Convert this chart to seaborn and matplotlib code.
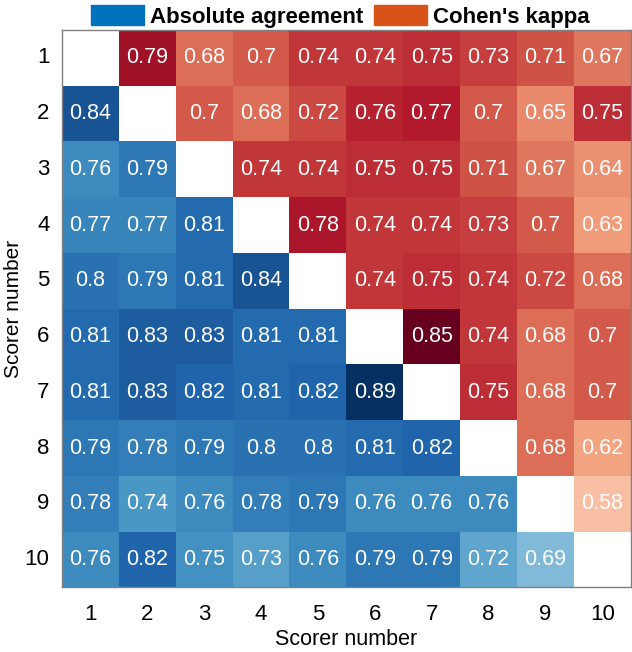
import numpy as np
import pandas as pd
import matplotlib
matplotlib.use("Agg")
import matplotlib.pyplot as plt
from matplotlib.colors import ListedColormap
from matplotlib.patches import Patch
import seaborn as sns

# scorer labels
scorers = [str(i) for i in range(1, 11)]

# agreement matrix: lower triangle = absolute agreement, upper = Cohen's kappa
row1 = [np.nan, 0.79, 0.68, 0.70, 0.74, 0.74, 0.75, 0.73, 0.71, 0.67]
row2 = [0.84, np.nan, 0.70, 0.68, 0.72, 0.76, 0.77, 0.70, 0.65, 0.75]
row3 = [0.76, 0.79, np.nan, 0.74, 0.74, 0.75, 0.75, 0.71, 0.67, 0.64]
row4 = [0.77, 0.77, 0.81, np.nan, 0.78, 0.74, 0.74, 0.73, 0.70, 0.63]
row5 = [0.80, 0.79, 0.81, 0.84, np.nan, 0.74, 0.75, 0.74, 0.72, 0.68]
row6 = [0.81, 0.83, 0.83, 0.81, 0.81, np.nan, 0.85, 0.74, 0.68, 0.70]
row7 = [0.81, 0.83, 0.82, 0.81, 0.82, 0.89, np.nan, 0.75, 0.68, 0.70]
row8 = [0.79, 0.78, 0.79, 0.80, 0.80, 0.81, 0.82, np.nan, 0.68, 0.62]
row9 = [0.78, 0.74, 0.76, 0.78, 0.79, 0.76, 0.76, 0.76, np.nan, 0.58]
row10 = [0.76, 0.82, 0.75, 0.73, 0.76, 0.79, 0.79, 0.72, 0.69, np.nan]

mat = pd.DataFrame([row1, row2, row3, row4, row5, row6, row7, row8, row9, row10],
                   index=scorers, columns=scorers)

lower = np.tril(np.ones(mat.shape, dtype=bool), -1)
upper = np.triu(np.ones(mat.shape, dtype=bool), 1)

rdbu = plt.get_cmap("RdBu")
blues = ListedColormap(rdbu(np.linspace(0.5, 1.0, 256)))
reds = ListedColormap(rdbu(np.linspace(0.5, 0.0, 256)))

plt.rcParams["font.family"] = ["Liberation Sans", "DejaVu Sans"]

fig = plt.figure(figsize=(6.32, 6.52), dpi=100)
ax = fig.add_axes([0.098, 0.099, 0.900, 0.855])

annot_kw = {"color": "white", "fontsize": 15.5}
sns.heatmap(mat, mask=~lower, cmap=blues, vmin=0.533, vmax=0.89, cbar=False,
            annot=True, fmt="g", annot_kws=annot_kw, ax=ax)
sns.heatmap(mat, mask=~upper, cmap=reds, vmin=0.465, vmax=0.85, cbar=False,
            annot=True, fmt="g", annot_kws=annot_kw, ax=ax)

for s in ax.spines.values():
    s.set_visible(True)
    s.set_color("#808080")
    s.set_linewidth(1)

ax.tick_params(axis="both", length=0, labelsize=16)
ax.tick_params(axis="x", pad=12)
ax.tick_params(axis="y", pad=9)
ax.set_yticklabels(scorers, rotation=0)
ax.set_xticklabels(scorers, rotation=0)
ax.set_xlabel("Scorer number", fontsize=15.5, labelpad=3)
ax.set_ylabel("Scorer number", fontsize=15, labelpad=1)

handles = [Patch(facecolor="#0072BD", edgecolor="#0072BD"),
           Patch(facecolor="#D95319", edgecolor="#D95319")]
fig.legend(handles, ["Absolute agreement", "Cohen's kappa"], ncol=2,
           loc="upper center", bbox_to_anchor=(0.538, 1.006), frameon=False,
           prop={"weight": "bold", "size": 16}, handlelength=2.4,
           handleheight=1.0, handletextpad=0.25, columnspacing=0.5,
           borderaxespad=0)

fig.savefig("out.png", dpi=100)
